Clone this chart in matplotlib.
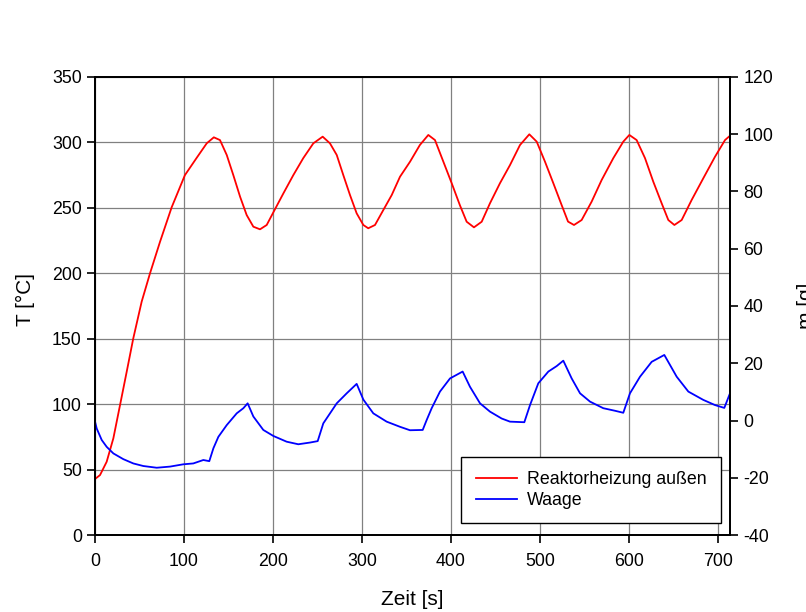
import matplotlib
matplotlib.use("Agg")
import matplotlib.pyplot as plt

plt.rcParams['font.family'] = ['Liberation Sans', 'DejaVu Sans']
plt.rcParams['axes.unicode_minus'] = False

# Reactor outer heating temperature [°C] over time [s]
t_heat = [0, 5.6, 13.1, 20.6, 28.1, 35.6, 43, 52.4, 61.8, 73, 86.1, 101, 114, 125.5,
          133.5, 140.4, 148, 155.4, 163, 170.4, 177.9, 185.4, 192.9, 200.4, 211.6,
          222.8, 234, 245.3, 255.8, 264, 271.6, 279, 286.5, 294, 301.5, 307, 314.6,
          324, 333.4, 342.7, 354, 365, 374.5, 382, 391.4, 400.8, 410, 417.6, 425.8,
          434.5, 443.8, 455, 466.3, 477.5, 488, 496.3, 505.6, 515, 524.4, 531.5,
          538.2, 546.8, 558, 569.3, 582.4, 593.6, 600.4, 608.6, 618, 627.3, 636.7,
          644.2, 651, 659.2, 670.4, 683.5, 696.6, 707.9, 713.5]
T_heat = [42.8, 45.8, 56, 73.9, 99.3, 124.8, 150.3, 178.3, 200, 224, 250.4, 275, 288,
          299.3, 303.9, 301.8, 290.4, 275, 258.5, 244.5, 235.6, 233.6, 236.9, 246.6,
          261, 275, 288, 299.3, 304.4, 299.3, 290.4, 275, 259.8, 245.8, 236.9, 234.4,
          236.9, 248.4, 259.8, 273.8, 285.3, 298, 305.7, 301.8, 285.3, 268.8, 252,
          239.4, 235.1, 239.4, 253.5, 268.8, 282.7, 298, 306.2, 300.6, 285.3, 268.8,
          252, 239.5, 236.9, 240.7, 254.7, 271.3, 288, 300.6, 305.7, 301.8, 288, 270,
          253.5, 240.7, 236.9, 240.7, 256, 272.6, 289, 301.8, 305.1]

# Balance reading [g] over time [s]
t_mass = [0, 1.9, 7.5, 13.1, 20.6, 31.8, 43, 54.3, 69.3, 84.3, 99.2, 110.4, 121.7,
          128.4, 133, 138.6, 148, 159.2, 166.7, 171.5, 177.9, 189.1, 200.4, 215.3,
          228.4, 241.6, 250.2, 256.5, 271.6, 282.8, 294, 301.5, 312.7, 327.7, 342.7,
          353.9, 368.2, 372.7, 378.3, 387.6, 398.9, 413.1, 421.3, 432.6, 443.8, 456.9,
          466.3, 482.4, 488.8, 498.1, 509.4, 518.7, 526.2, 535.6, 545, 556.2, 571.1,
          584.3, 593.6, 601.1, 612.4, 625.5, 639.7, 653.6, 666.7, 683.5, 696.6, 707.1,
          713.5]
m_mass = [-0.4, -2.8, -6.8, -9.2, -11.5, -13.5, -15, -15.9, -16.5, -16.1, -15.3, -15,
          -13.8, -14.2, -9.7, -5.7, -1.6, 2.5, 4.3, 6, 1.4, -3.3, -5.4, -7.4, -8.3,
          -7.7, -7.2, -1, 6, 9.5, 12.8, 7.3, 2.5, -0.4, -2.2, -3.4, -3.3, 0.2, 4.3,
          10.1, 14.7, 17.1, 11.8, 6, 3.1, 0.7, -0.4, -0.6, 5.4, 13, 17.1, 19, 20.9,
          14.7, 9.5, 6.6, 4.3, 3.4, 2.7, 9.5, 15.3, 20.5, 22.9, 15.3, 10.1, 7.2, 5.4,
          4.4, 9.5]

x_ticks = [0, 100, 200, 300, 400, 500, 600, 700]
T_ticks = [0, 50, 100, 150, 200, 250, 300, 350]
m_ticks = [-40, -20, 0, 20, 40, 60, 80, 100, 120]

fig = plt.figure(figsize=(8.06, 6.12), dpi=100)
ax = fig.add_axes([0.1179, 0.1258, 0.7878, 0.7484])
ax2 = ax.twinx()

l1, = ax.plot(t_heat, T_heat, color='#ff0000', lw=1.3, label='Reaktorheizung außen')
l2, = ax2.plot(t_mass, m_mass, color='#0000ff', lw=1.3, label='Waage')

ax.set_xlim(0, 713.5)
ax.set_ylim(0, 350)
ax2.set_ylim(-40, 120)
ax.set_xticks(x_ticks)
ax.set_yticks(T_ticks)
ax2.set_yticks(m_ticks)

ax.grid(True, color='#808080', lw=0.9)
ax.set_axisbelow(True)

for a in (ax, ax2):
    for s in a.spines.values():
        s.set_color('black')
        s.set_linewidth(1.3)
    a.tick_params(direction='out', length=6, width=1.2, labelsize=12.8, colors='black')
ax.tick_params(axis='x', pad=7)

ax.set_xlabel('Zeit [s]', fontsize=15, labelpad=14)
ax.set_ylabel('T [°C]', fontsize=15)
ax2.set_ylabel('m [g]', fontsize=15)
ax.yaxis.set_label_coords(-0.095, 0.515)
ax2.yaxis.set_label_coords(1.106, 0.5)

leg = ax2.legend(handles=[l1, l2], loc='lower right', bbox_to_anchor=(0.986, 0.026),
                 borderaxespad=0, fontsize=12.8, frameon=True, fancybox=False,
                 framealpha=1, edgecolor='black', handlelength=2.3, handletextpad=0.6,
                 labelspacing=0.2, borderpad=0.8)
leg.get_frame().set_linewidth(1.0)

fig.savefig('out.png', dpi=100)
